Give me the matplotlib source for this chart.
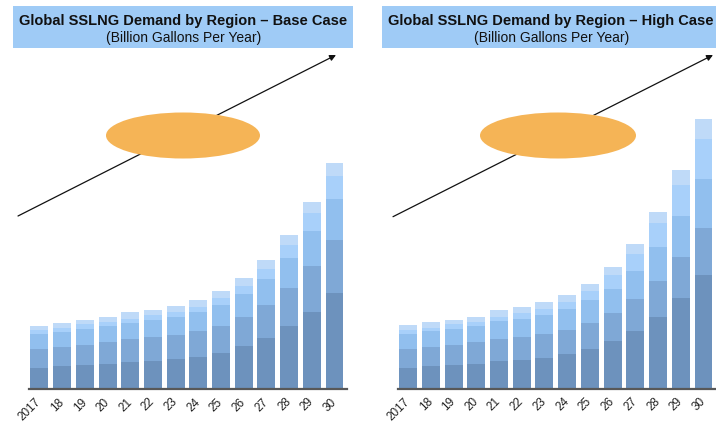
import matplotlib
matplotlib.use("Agg")
import matplotlib.pyplot as plt
from matplotlib.patches import Ellipse, Rectangle
import numpy as np

plt.rcParams['font.family'] = ['Liberation Sans', 'DejaVu Sans']

years = ["2017", "18", "19", "20", "21", "22", "23", "24", "25", "26", "27", "28", "29", "30"]

# Base case: stacked segments (bottom to top)
base_seg1 = [21.0, 23.0, 23.7, 25.3, 27.3, 28.3, 29.7, 32.3, 36.3, 42.7, 50.7, 62.7, 77.3, 95.7]
base_seg2 = [19.0, 19.0, 20.6, 21.4, 22.4, 23.4, 24.3, 25.7, 27.0, 29.6, 33.6, 38.6, 45.7, 53.6]
base_seg3 = [15.0, 15.0, 16.0, 16.6, 16.3, 17.3, 18.3, 18.7, 21.0, 22.4, 26.0, 30.0, 34.7, 40.4]
base_seg4 = [3.7, 3.7, 4.4, 3.7, 4.3, 4.7, 4.7, 5.6, 7.0, 8.3, 9.7, 12.7, 18.0, 23.0]
base_seg5 = [4.6, 5.6, 4.3, 5.3, 6.7, 5.6, 6.3, 6.7, 6.7, 8.0, 9.3, 10.0, 11.0, 13.0]

# High case
high_seg1 = [20.7, 22.4, 23.4, 25.0, 27.4, 29.0, 31.0, 34.7, 39.7, 47.4, 58.0, 72.0, 90.7, 114.0]
high_seg2 = [19.3, 19.3, 20.6, 21.4, 22.0, 22.4, 23.4, 24.0, 26.3, 28.0, 31.4, 35.4, 41.0, 46.7]
high_seg3 = [14.7, 16.0, 16.0, 16.6, 18.0, 18.3, 19.3, 21.0, 22.4, 24.6, 28.3, 34.3, 41.0, 48.7]
high_seg4 = [4.0, 3.3, 4.4, 3.7, 4.6, 6.3, 6.3, 7.0, 9.3, 13.4, 17.0, 23.7, 31.0, 40.6]
high_seg5 = [4.7, 5.4, 4.3, 5.3, 6.7, 5.7, 6.4, 7.0, 7.3, 8.3, 10.0, 11.6, 15.0, 19.4]

titles = ["Global SSLNG Demand by Region \u2013 Base Case",
          "Global SSLNG Demand by Region \u2013 High Case"]
subtitle = "(Billion Gallons Per Year)"

colors = ["#6D92BD", "#7FA8D6", "#91BFEE", "#A8D0FA", "#BFDAF8"]

W, H = 716, 425
fig = plt.figure(figsize=(W / 100, H / 100), dpi=100)

# overlay axes in pixel coordinates for decorations
ov = fig.add_axes([0, 0, 1, 1])
ov.set_xlim(0, W)
ov.set_ylim(H, 0)
ov.axis('off')

def fx(px):
    return px / W

def fy(py):
    return 1 - py / H

panels = [
    dict(series=[base_seg1, base_seg2, base_seg3, base_seg4, base_seg5],
         ax_left=29, ax_right=347, base=389, title=titles[0],
         box=(13, 5.7, 340, 42), tcx=183, ell=(183, 135.5, 154, 46),
         arrow=((18, 216), (336, 55))),
    dict(series=[high_seg1, high_seg2, high_seg3, high_seg4, high_seg5],
         ax_left=397.7, ax_right=716, base=388.7, title=titles[1],
         box=(382.3, 5.7, 340, 42), tcx=551, ell=(558, 135.5, 156, 46),
         arrow=((393, 216.7), (713, 55))),
]

top_px = 100
for p in panels:
    # decorations
    bx, by, bw, bh = p['box']
    ov.add_patch(Rectangle((bx, by), bw, bh, facecolor="#9FCBF6", edgecolor='none', zorder=1))
    ov.text(p['tcx'], 20.5, p['title'], ha='center', va='center', fontsize=10.5,
            fontweight='bold', color='#111111', zorder=3)
    ov.text(p['tcx'] + 0.5, 37.5, subtitle, ha='center', va='center', fontsize=10,
            color='#111111', zorder=3)
    (x0, y0), (x1, y1) = p['arrow']
    ov.annotate("", xy=(x1, y1), xytext=(x0, y0),
                arrowprops=dict(arrowstyle='-|>', color='#111111', lw=0.9,
                                mutation_scale=9, shrinkA=0, shrinkB=0), zorder=2)
    cx, cy, ew, eh = p['ell']
    ov.add_patch(Ellipse((cx, cy), ew, eh, facecolor="#F5B456", edgecolor='none', zorder=4))

    # bar chart axes
    ax = fig.add_axes([fx(p['ax_left']), fy(p['base']),
                       fx(p['ax_right'] - p['ax_left']), (p['base'] - top_px) / H])
    ax.patch.set_alpha(0)
    x = np.arange(len(years))
    bottom = np.zeros(len(years))
    for vals, c in zip(p['series'], colors):
        ax.bar(x, vals, width=0.79, bottom=bottom, color=c, edgecolor='none')
        bottom += np.array(vals)
    ax.set_xlim(-0.46, 13.55)
    ax.set_ylim(0, p['base'] - top_px)
    for s in ['top', 'right', 'left']:
        ax.spines[s].set_visible(False)
    ax.spines['bottom'].set_color('#585858')
    ax.spines['bottom'].set_linewidth(1.6)
    ax.set_yticks([])
    ax.set_xticks(x)
    ax.set_xticklabels(years, rotation=45, ha='right', va='center',
                       rotation_mode='anchor', fontsize=8.5, color='#222222')
    ax.tick_params(axis='x', length=0, pad=8)

fig.savefig("out.png", dpi=100)
